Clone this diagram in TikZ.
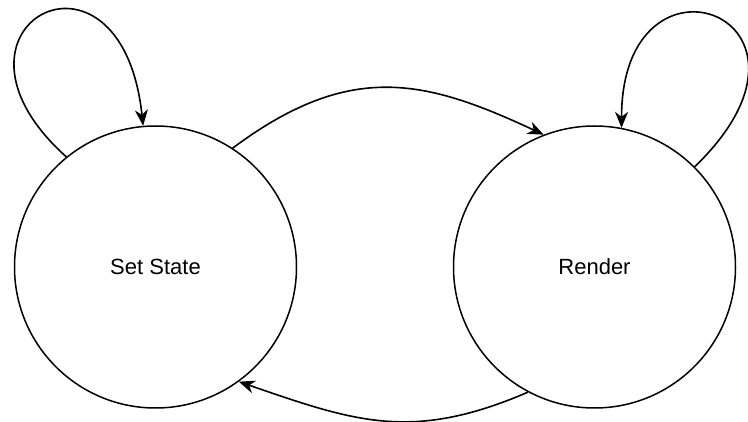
\documentclass[tikz,border=0pt]{standalone}
\usepackage{fontspec}
\setmainfont{Liberation Sans}
\usetikzlibrary{arrows.meta}
\begin{document}
\begin{tikzpicture}[x=1pt,y=-1pt,
  statenode/.style={draw=black,circle,line width=1.5pt,minimum size=282pt,inner sep=0pt,font=\fontsize{22}{26}\selectfont},
  edge/.style={draw=black,line width=1.6pt,-{Stealth[length=16pt,width=13pt,inset=5pt]}}]
\useasboundingbox (0,0) rectangle (748,422);
\node[statenode] (S) at (155.5,267) {Set State};
\node[statenode] (R) at (594.5,267) {Render};
\draw[edge] (S.129) .. controls +(-145,-130) and +(-22,-205) .. (S.95);
\draw[edge] (R.45) .. controls +(155,-150) and +(0,-195) .. (R.79);
\draw[edge] (S.57) .. controls +(118,-88) and +(-118,-55) .. (R.111);
\draw[edge] (R.242) .. controls +(-116,50) and +(116,40) .. (S.306);
\end{tikzpicture}
\end{document}
